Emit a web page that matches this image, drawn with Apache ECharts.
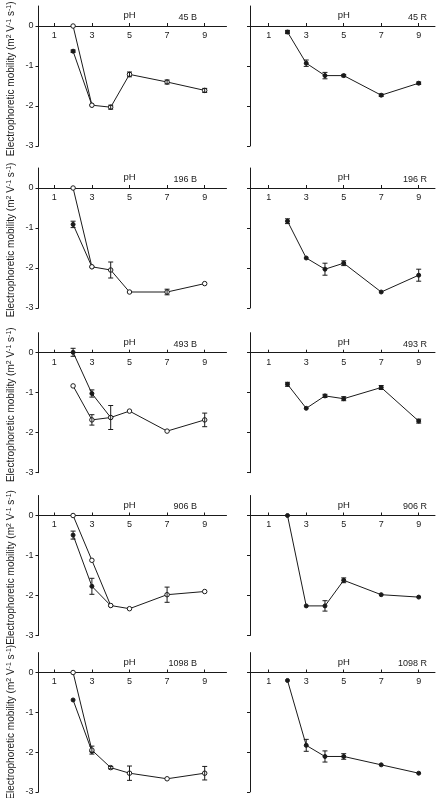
<!DOCTYPE html>
<html><head><meta charset="utf-8">
<script src="https://cdn.jsdelivr.net/npm/echarts@6/dist/echarts.min.js"></script>
<style>html,body{margin:0;padding:0;background:#fff}#c{width:439px;height:798px}</style>
</head><body><div id="c"></div>
<script>
// ---- data: each point is [pH, mobility, error] ----
const panelLabels = ['45 B','45 R','196 B','196 R','493 B','493 R','906 B','906 R','1098 B','1098 R'];
const xTicks = [1,3,5,7,9];
const yTicks = [0,-1,-2,-3];

const open45B   = [[2,0,0],[3,-1.98,0],[4,-2.03,0.05],[5,-1.21,0.06],[7,-1.4,0.05],[9,-1.61,0.05]];
const filled45B = [[2,-0.63,0.03],[3,-1.98,0]];
const filled45R = [[2,-0.15,0.04],[3,-0.93,0.08],[4,-1.24,0.08],[5,-1.24,0.03],[7,-1.73,0.03],[9,-1.43,0.03]];

const open196B   = [[2,0,0],[3,-1.97,0],[4,-2.05,0.2],[5,-2.6,0],[7,-2.6,0.07],[9,-2.39,0]];
const filled196B = [[2,-0.91,0.08],[3,-1.97,0]];
const filled196R = [[2,-0.83,0.06],[3,-1.75,0],[4,-2.03,0.15],[5,-1.88,0.06],[7,-2.6,0],[9,-2.18,0.15]];

const open493B   = [[2,-0.83,0],[3,-1.68,0.13],[4,-1.62,0],[5,-1.46,0],[7,-1.96,0],[9,-1.68,0.17]];
const filled493B = [[2,0.01,0.1],[3,-1.02,0.09],[4,-1.62,0.3]];
const filled493R = [[2,-0.79,0.05],[3,-1.39,0],[4,-1.08,0.04],[5,-1.15,0.05],[7,-0.87,0.05],[9,-1.71,0.05]];

const open906B   = [[2,0,0],[3,-1.12,0],[4,-2.25,0],[5,-2.33,0],[7,-1.98,0.19],[9,-1.9,0]];
const filled906B = [[2,-0.49,0.1],[3,-1.77,0.2],[4,-2.25,0]];
const filled906R = [[2,0,0],[3,-2.26,0],[4,-2.26,0.13],[5,-1.62,0.06],[7,-1.98,0],[9,-2.04,0]];

const open1098B   = [[2,0,0],[3,-1.95,0.1],[4,-2.39,0.03],[5,-2.53,0.18],[7,-2.67,0],[9,-2.53,0.17]];
const filled1098B = [[2,-0.69,0],[3,-1.98,0]];
const filled1098R = [[2,-0.2,0],[3,-1.83,0.15],[4,-2.11,0.14],[5,-2.11,0.07],[7,-2.32,0],[9,-2.53,0]];

const panelsOpen   = [open45B, null, open196B, null, open493B, null, open906B, null, open1098B, null];
const panelsFilled = [filled45B, filled45R, filled196B, filled196R, filled493B, filled493R, filled906B, filled906R, filled1098B, filled1098R];

// ---- layout ----
const FONT = "'Liberation Sans', Arial, sans-serif";
const INK = '#1a1a1a';
const rowZero = [26, 188, 352.7, 515.5, 672.5];
const rowUnit = [40, 40, 40, 40, 39.8];
const titleCenter = [-1.32, -1.3, -1.3, -1.3, -1.25];
const colCfg = [
  {left: 38.5, width: 188, min: 0.16, max: 10.16, labelRight: 197},
  {left: 250, width: 185, min: 0, max: 9.87, labelRight: 427}
];

const chart = echarts.init(document.getElementById('c'));
const grids = [], xAxes = [], yAxes = [], series = [], graphics = [];

function errRender(params, api) {
  const x = api.value(0), lo = api.value(1), hi = api.value(2);
  const a = api.coord([x, hi]), b = api.coord([x, lo]);
  const st = {stroke: INK, lineWidth: 1};
  return {type: 'group', children: [
    {type: 'line', shape: {x1: a[0], y1: a[1], x2: b[0], y2: b[1]}, style: st},
    {type: 'line', shape: {x1: a[0]-2.5, y1: a[1], x2: a[0]+2.5, y2: a[1]}, style: st},
    {type: 'line', shape: {x1: b[0]-2.5, y1: b[1], x2: b[0]+2.5, y2: b[1]}, style: st}
  ]};
}

for (let i = 0; i < 10; i++) {
  const r = Math.floor(i / 2), c = i % 2, cc = colCfg[c];
  const u = rowUnit[r];
  grids.push({left: cc.left, top: rowZero[r] - 0.5 * u, width: cc.width, height: 3.5 * u});
  xAxes.push({
    gridIndex: i, type: 'value', min: cc.min, max: cc.max, position: 'bottom',
    offset: -3 * u,
    axisLine: {onZero: false, lineStyle: {color: INK, width: 1}},
    axisTick: {inside: true, length: 3, customValues: xTicks, lineStyle: {color: INK}},
    axisLabel: {customValues: xTicks, fontSize: 9, margin: 5, color: INK, fontFamily: FONT},
    splitLine: {show: false}
  });
  yAxes.push({
    gridIndex: i, type: 'value', min: -3, max: 0.5,
    axisLine: {show: true, onZero: false, lineStyle: {color: INK, width: 1}},
    axisTick: {show: true, length: 3, customValues: yTicks, lineStyle: {color: INK}},
    axisLabel: {show: c === 0, customValues: yTicks, fontSize: 9, margin: 5, color: INK, fontFamily: FONT},
    splitLine: {show: false}
  });
  const sets = [{d: panelsFilled[i], filled: true}];
  if (panelsOpen[i]) sets.push({d: panelsOpen[i], filled: false});
  sets.forEach((s, k) => {
    series.push({
      type: 'line', xAxisIndex: i, yAxisIndex: i, z: 3 + k,
      data: s.d.map(p => [p[0], p[1]]),
      symbol: 'circle', symbolSize: s.filled ? 4 : 4.5, showSymbol: true,
      lineStyle: {color: INK, width: 1},
      itemStyle: {color: s.filled ? INK : '#fff', borderColor: INK, borderWidth: 1},
      animation: false, silent: true
    });
    const eb = s.d.filter(p => p[2] > 0).map(p => [p[0], p[1] - p[2], p[1] + p[2]]);
    if (eb.length) series.push({
      type: 'custom', xAxisIndex: i, yAxisIndex: i, z: 6,
      data: eb, renderItem: errRender, animation: false, silent: true
    });
  });
}

chart.setOption({
  animation: false, grid: grids, xAxis: xAxes, yAxis: yAxes, series: series
});

// texts positioned from axes
const rich = {
  a: {fontSize: 10, fontFamily: FONT, fill: INK, lineHeight: 12},
  s: {fontSize: 7, fontFamily: FONT, fill: INK, lineHeight: 7, verticalAlign: 'top'}
};
for (let i = 0; i < 10; i++) {
  const r = Math.floor(i / 2), c = i % 2;
  const p5 = chart.convertToPixel({xAxisIndex: i, yAxisIndex: i}, [5, 0]);
  graphics.push({type: 'text', x: p5[0], y: p5[1] - 10.5, silent: true,
    style: {text: 'pH', fontSize: 9.5, fontFamily: FONT, fill: INK, align: 'center', verticalAlign: 'middle'}});
  graphics.push({type: 'text', x: colCfg[c].labelRight, y: p5[1] - 8.5, silent: true,
    style: {text: panelLabels[i], fontSize: 9, fontFamily: FONT, fill: INK, align: 'right', verticalAlign: 'middle'}});
  if (c === 0) {
    const pm = chart.convertToPixel({xAxisIndex: i, yAxisIndex: i}, [0, titleCenter[r]]);
    graphics.push({type: 'text', x: 11.5, y: pm[1], rotation: Math.PI / 2, silent: true,
      style: {text: '{a|Electrophoretic mobility (m}{s|2}{a| V}{s|-1}{a| s}{s|-1}{a|)}',
        rich: rich, align: 'center', verticalAlign: 'middle'}});
  }
}
chart.setOption({graphic: graphics});
</script>
</body></html>
